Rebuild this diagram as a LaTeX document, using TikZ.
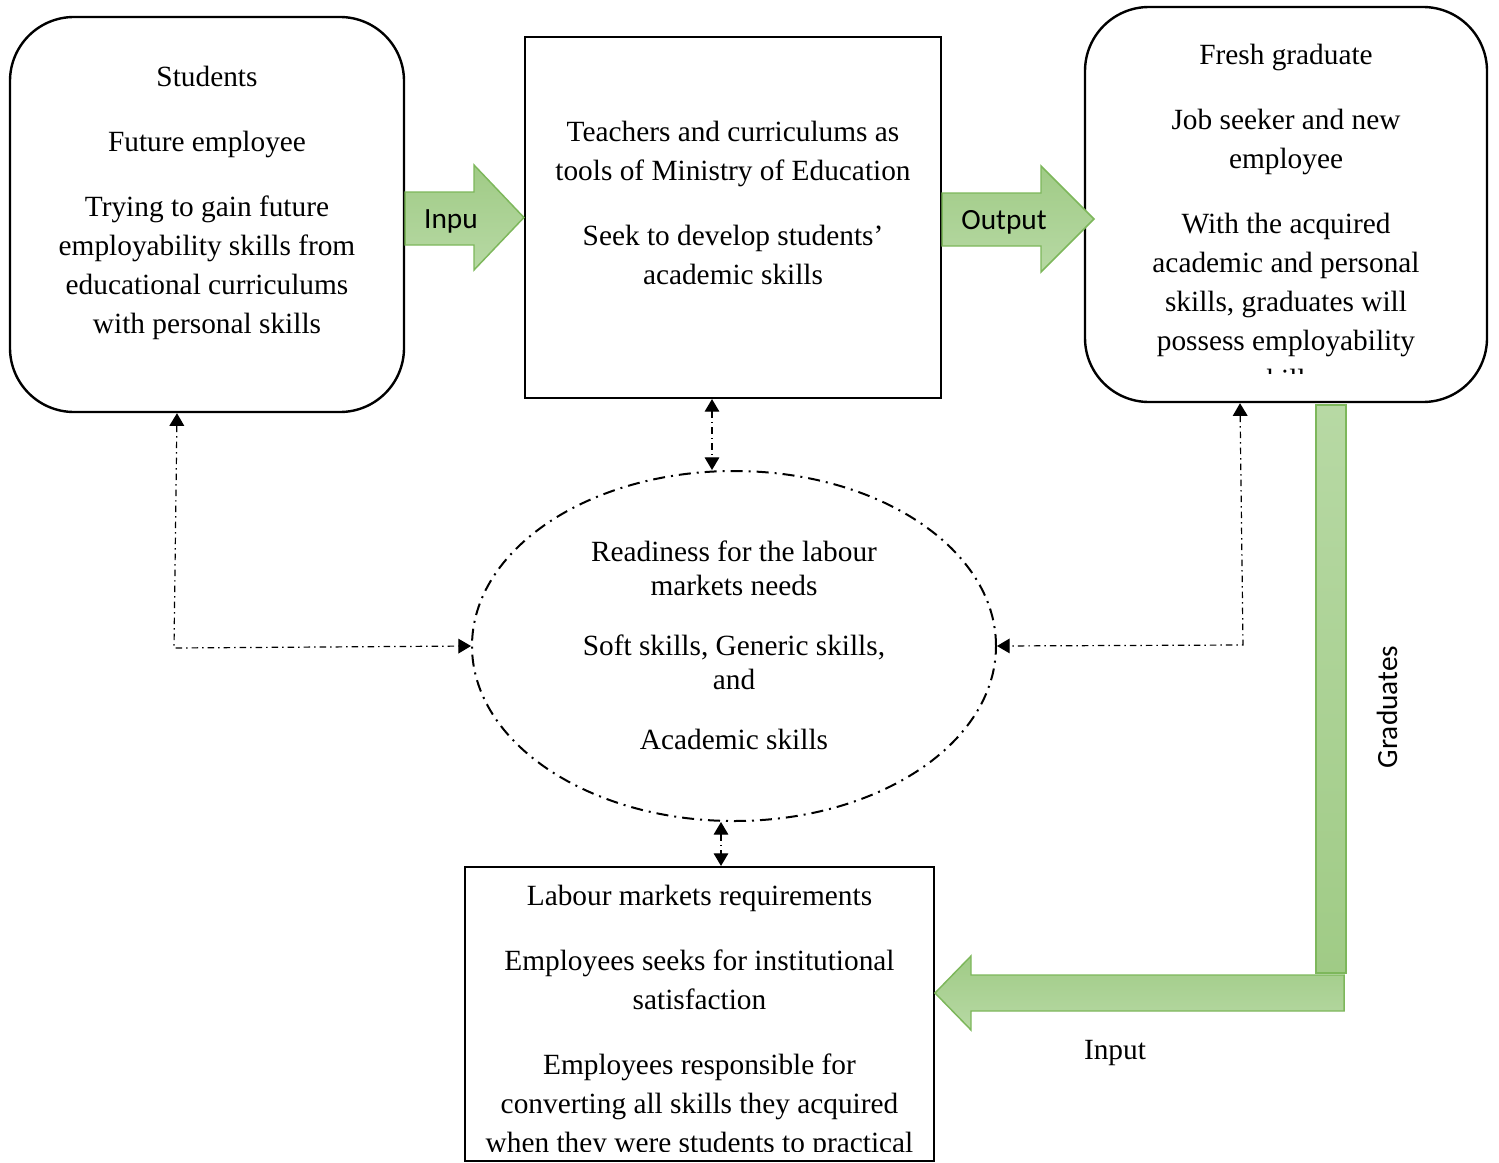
\documentclass[tikz,border=0pt]{standalone}
\usepackage{fontspec}
\setmainfont{Liberation Serif}
\newfontfamily\labelsans{Carlito}
\usetikzlibrary{arrows.meta,calc,shapes.geometric}

\definecolor{arrowedge}{HTML}{7DB75B}
\definecolor{greenlight}{HTML}{B7D9A4}
\definecolor{greendark}{HTML}{A0CB86}

\begin{document}
\begin{tikzpicture}[x=0.75pt,y=-0.75pt,
  rbox/.style={draw, line width=1.8pt, rounded corners=48pt, inner sep=0pt},
  sbox/.style={draw, line width=1.6pt, inner sep=0pt},
  oval/.style={ellipse, draw, line width=1.5pt, inner sep=0pt,
               dash pattern=on 9pt off 4.5pt on 1.5pt off 4.5pt},
  txt/.style={font=\fontsize{22}{29.25}\selectfont, align=center, inner sep=0pt, anchor=north},
  etxt/.style={font=\fontsize{22}{25.5}\selectfont, align=center, inner sep=0pt, anchor=north},
  sanslabel/.style={font=\labelsans\fontsize{22}{26}\selectfont, inner sep=0pt},
  seriflabel/.style={font=\fontsize{22}{26}\selectfont, inner sep=0pt},
  link/.style={line width=0.9pt, dash pattern=on 5pt off 3pt on 1pt off 3pt,
               {Triangle[length=9.5pt,width=11pt]}-{Triangle[length=9.5pt,width=11pt]}},
  blockarrow/.style={draw=arrowedge, line width=1.1pt, top color=greendark, bottom color=greenlight},
  bararrow/.style={draw=arrowedge, line width=1.1pt, top color=greenlight, bottom color=greendark}
]
\useasboundingbox (0,0) rectangle (1499,1163);

% boxes
\node[rbox, minimum width=295.5pt, minimum height=296.25pt] (stu) at (207,214.5) {};
\node[sbox, minimum width=312pt, minimum height=270.75pt] (mid) at (733,217.5) {};
\node[rbox, minimum width=301.5pt, minimum height=296.25pt] (fresh) at (1286,204.5) {};
\node[oval, minimum width=393pt, minimum height=262.5pt] (ell) at (734,646) {};
\node[sbox, minimum width=351.75pt, minimum height=220.5pt] (bot) at (699.5,1014) {};

% box texts
\node[txt] (stutext) at (207,59.2) {\strut Students\\[19.5pt]\strut Future employee\\[19.5pt]%
  \strut Trying to gain future\\\strut employability skills from\\\strut educational curriculums\\\strut with personal skills};
\node[txt] (midtext) at (733,114.2) {\strut Teachers and curriculums as\\\strut tools of Ministry of Education\\[19.5pt]%
  \strut Seek to develop students’\\\strut academic skills};
\begin{scope}
  \clip (1090,10) rectangle (1482,373);
  \node[txt] (freshtext) at (1286,37.2) {\strut Fresh graduate\\[19.5pt]\strut Job seeker and new\\\strut employee\\[19.5pt]%
    \strut With the acquired\\\strut academic and personal\\\strut skills, graduates will\\\strut possess employability\\\strut skills};
\end{scope}
\node[etxt] (elltext) at (734,537.2) {\strut Readiness for the labour\\\strut markets needs\\[19.5pt]%
  \strut Soft skills, Generic skills,\\\strut and\\[19.5pt]\strut Academic skills};
\begin{scope}
  \clip (468,870) rectangle (931,1151);
  \node[txt] (bottext) at (699.5,878.2) {\strut Labour markets requirements\\[19.5pt]%
    \strut Employees seeks for institutional\\\strut satisfaction\\[19.5pt]%
    \strut Employees responsible for\\\strut converting all skills they acquired\\\strut when they were students to practical};
\end{scope}

% green block arrows between the boxes
\path[blockarrow] (stu.east |- 0,192) -- (474,192) -- (474,165) -- (mid.west) -- (474,270) -- (474,245) -- (stu.east |- 0,245) -- cycle;
\node[sanslabel] (inlabel) at (451,221) {Inpu};
\path[blockarrow] (mid.east |- 0,193) -- (1041,193) -- (1041,166) -- (1094,219) -- (1041,272) -- (1041,246) -- (mid.east |- 0,246) -- cycle;
\node[sanslabel] (outlabel) at (1004,222) {Output};

% graduates path down and back to the labour market box
\path[bararrow] (1316,405) rectangle (1346,973);
\path[blockarrow, top color=greendark, bottom color=greenlight]
  (1344,975) -- (971,975) -- (971,956) -- (935,993) -- (971,1030) -- (971,1011) -- (1344,1011) -- cycle;
\node[sanslabel, rotate=90] (gradlabel) at (1387,707) {Graduates};
\node[seriflabel] (inputlabel) at (1115,1053) {Input};

% dash-dot links to the readiness ellipse
\coordinate (k1) at (174,648);
\coordinate (k4) at (1243,645);
\draw[link] (stu.south -| 177,0) -- (k1) -- (ell.west);
\draw[link] (mid.south -| 712,0) -- (ell.north -| 712,0);
\draw[link] (ell.south -| 721,0) -- (bot.north -| 721,0);
\draw[link] (fresh.south -| 1240,0) -- (k4) -- (ell.east);
\end{tikzpicture}
\end{document}
